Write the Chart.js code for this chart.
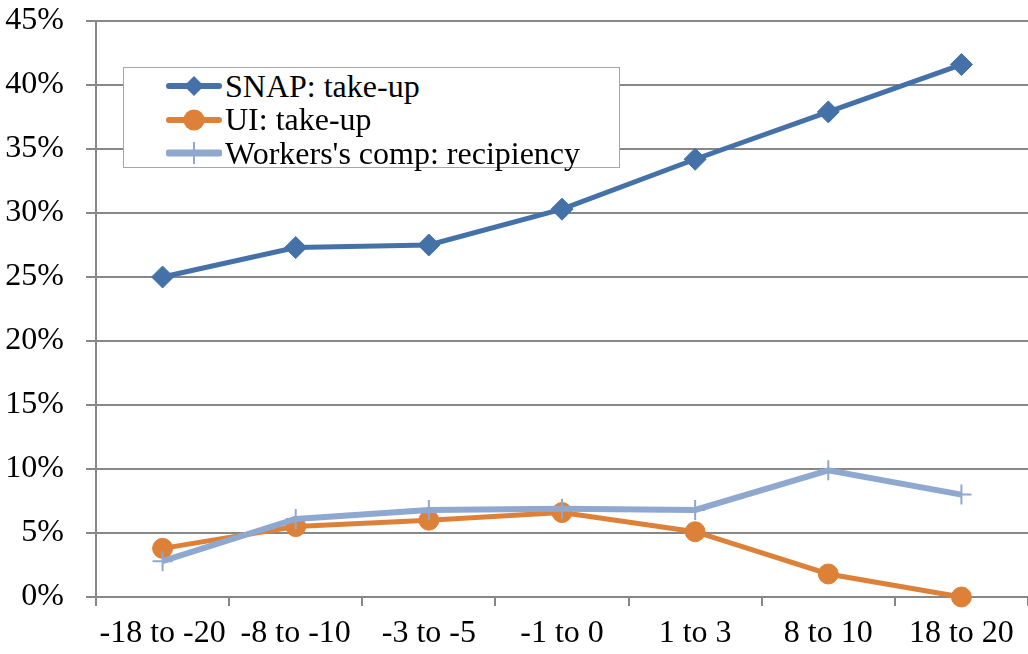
<!DOCTYPE html>
<html>
<head>
<meta charset="utf-8">
<script src="https://cdn.jsdelivr.net/npm/chart.js@4"></script>
<style>
    body { margin: 0; background: #fff; }
    #wrap { position: relative; width: 1028px; height: 654px; }
    #legend {
        position: absolute; left: 123px; top: 67px; width: 495px; height: 99px;
        border: 1px solid #a6a6a6; background: #fff;
        font-family: "Liberation Serif", "Times New Roman", serif; font-size: 32px;
        box-sizing: content-box;
    }
    .row { position: absolute; left: 42px; height: 34px; display: flex; align-items: center; white-space: nowrap; }
    .row svg { margin-right: 3px; }
</style>
</head>
<body>
<div id="wrap">
    <canvas id="lineChart" width="1028" height="654"></canvas>
    <div id="legend"></div>
</div>
<script>
const categories = ["-18 to -20", "-8 to -10", "-3 to -5", "-1 to 0", "1 to 3", "8 to 10", "18 to 20"];
const snapTakeUp = [25.0, 27.3, 27.5, 30.3, 34.2, 37.9, 41.6];
const uiTakeUp = [3.8, 5.5, 6.0, 6.6, 5.1, 1.8, 0.0];
const workersComp = [2.8, 6.1, 6.8, 6.9, 6.8, 9.9, 8.0];
const yTicks = [0, 5, 10, 15, 20, 25, 30, 35, 40, 45];

const gridColor = "#878787";
const font = { family: "'Liberation Serif', 'Times New Roman', serif", size: 32 };

const series = [
    { label: "SNAP: take-up", data: snapTakeUp, color: "#4472a8", style: "rectRot", radius: 11, width: 5, order: 3 },
    { label: "UI: take-up", data: uiTakeUp, color: "#dd8139", style: "circle", radius: 10, width: 5, order: 2 },
    { label: "Workers's comp: recipiency", data: workersComp, color: "#8ea8d0", style: "cross", radius: 10, width: 6, order: 1 },
];

new Chart(document.getElementById("lineChart"), {
    type: "line",
    data: {
        labels: categories,
        datasets: series.map((s) => ({
            label: s.label,
            data: s.data,
            borderColor: s.color,
            backgroundColor: s.color,
            borderWidth: s.width,
            pointStyle: s.style,
            pointRadius: s.radius,
            pointHoverRadius: s.radius,
            pointBorderWidth: s.style === "cross" ? 2 : 1,
            tension: 0,
            clip: false,
            order: s.order,
        })),
    },
    options: {
        responsive: false,
        animation: false,
        layout: { autoPadding: false, padding: { top: 21, right: 0, left: 0, bottom: 0 } },
        plugins: {
            legend: { display: false },
            tooltip: { enabled: false },
        },
        scales: {
            x: {
                offset: true,
                grid: { offset: true, drawOnChartArea: false, color: gridColor, lineWidth: 2, tickLength: 9 },
                border: { color: gridColor, width: 2 },
                ticks: { color: "#000", font: font, padding: 8, maxRotation: 0, autoSkip: false },
                afterFit: (scale) => {
                    scale.height = 57;
                    scale.paddingLeft = 0;
                    scale.paddingRight = 0;
                },
            },
            y: {
                min: 0,
                max: 45,
                afterBuildTicks: (scale) => { scale.ticks = yTicks.map((v) => ({ value: v })); },
                grid: { color: gridColor, lineWidth: 2, tickLength: 10 },
                border: { color: gridColor, width: 2 },
                ticks: { color: "#000", font: font, padding: 22, callback: (v) => v + "%" },
                afterFit: (scale) => {
                    scale.width = 96;
                    scale.paddingTop = 0;
                    scale.paddingBottom = 0;
                },
            },
        },
    },
});

// legend drawn as html, sitting inside the plot like the original
const legend = document.getElementById("legend");
series.forEach((s, i) => {
    const row = document.createElement("div");
    row.className = "row";
    row.style.top = (1 + i * 33.5) + "px";
    let marker = "";
    if (s.style === "rectRot") marker = `<polygon points="28,2 38,12 28,22 18,12" fill="${s.color}"/>`;
    if (s.style === "circle") marker = `<circle cx="28" cy="12" r="10.5" fill="${s.color}"/>`;
    if (s.style === "cross") marker = `<path d="M28 1 V23 M17 12 H39" stroke="${s.color}" stroke-width="2"/>`;
    row.innerHTML = `<svg width="56" height="24"><line x1="3" y1="12" x2="53" y2="12" stroke="${s.color}" stroke-width="${s.width + 1}" stroke-linecap="round"/>${marker}</svg><span>${s.label}</span>`;
    legend.appendChild(row);
});
</script>
</body>
</html>
